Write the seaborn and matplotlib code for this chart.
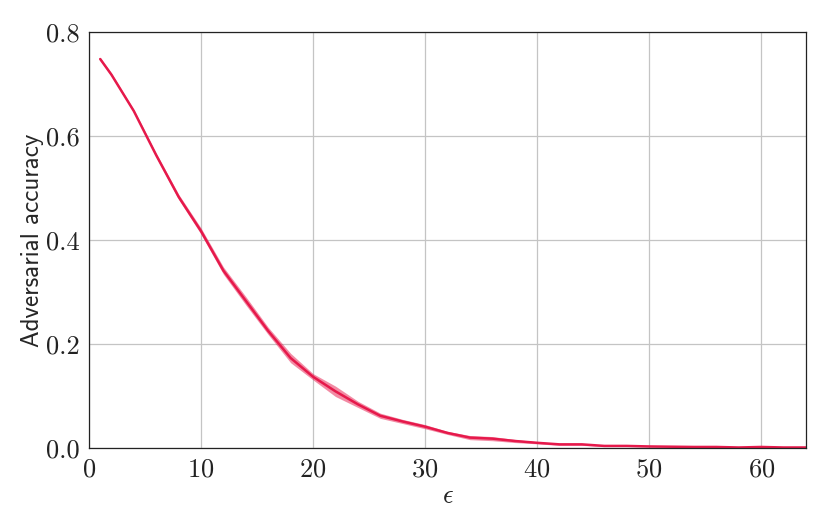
import numpy as np
import pandas as pd
import seaborn as sns
import matplotlib.pyplot as plt

# ── Data ──────────────────────────────────────────────────────────────────────
eps = [1, 2, 4, 6, 8, 10, 12, 14, 16, 18, 20, 22, 24, 26, 28, 30, 32,
       34, 36, 38, 40, 42, 44, 46, 48, 50, 52, 54, 56, 58, 60, 62, 64]
acc = [0.748, 0.718, 0.648, 0.563, 0.483, 0.417, 0.341, 0.283, 0.225, 0.173,
       0.137, 0.109, 0.084, 0.062, 0.051, 0.041, 0.029, 0.020, 0.018, 0.0135,
       0.010, 0.007, 0.007, 0.004, 0.004, 0.003, 0.0025, 0.002, 0.002, 0.001,
       0.002, 0.001, 0.001]
half = [0.003, 0.003, 0.003, 0.004, 0.005, 0.006, 0.007, 0.008, 0.007, 0.009,
        0.006, 0.010, 0.006, 0.005, 0.004, 0.004, 0.003, 0.004, 0.004, 0.003,
        0.002, 0.002, 0.002, 0.001, 0.001, 0.001, 0.001, 0.001, 0.001, 0.001,
        0.001, 0.001, 0.001]

df = pd.DataFrame({"eps": eps, "acc": acc, "half": half})

# ── Style ─────────────────────────────────────────────────────────────────────
sns.set_style("white")
plt.rcParams["font.family"] = ["cmr10"]
plt.rcParams["mathtext.fontset"] = "cm"
plt.rcParams["axes.formatter.use_mathtext"] = True
plt.rcParams["axes.unicode_minus"] = False

color = "#e6194b"

fig, ax = plt.subplots(figsize=(8.3, 5.29), dpi=100)
fig.subplots_adjust(left=89/830, right=806/830, top=1-32/529, bottom=1-448/529)

ax.fill_between(df["eps"], df["acc"] - df["half"], df["acc"] + df["half"],
                color=color, alpha=0.5, linewidth=0)
sns.lineplot(data=df, x="eps", y="acc", color=color, linewidth=1.8, ax=ax)

ax.set_xlim(0, 64)
ax.set_ylim(0, 0.8)
ax.set_xticks([0, 10, 20, 30, 40, 50, 60])
ax.set_yticks([0.0, 0.2, 0.4, 0.6, 0.8])
ax.set_yticklabels(["0.0", "0.2", "0.4", "0.6", "0.8"])
ax.grid(True, color="#c4c4c4", linewidth=0.9)
ax.set_axisbelow(True)

for s in ax.spines.values():
    s.set_color("#222222")
    s.set_linewidth(0.9)
ax.tick_params(axis="both", direction="out", length=3, width=0.8,
               labelsize=19, colors="#222222", pad=4)

ax.set_xlabel(r"$\epsilon$", fontsize=19, labelpad=2)
ax.set_ylabel("Adversarial accuracy", fontsize=18, family="cmss10", labelpad=1)

plt.savefig("out.png", dpi=100)
